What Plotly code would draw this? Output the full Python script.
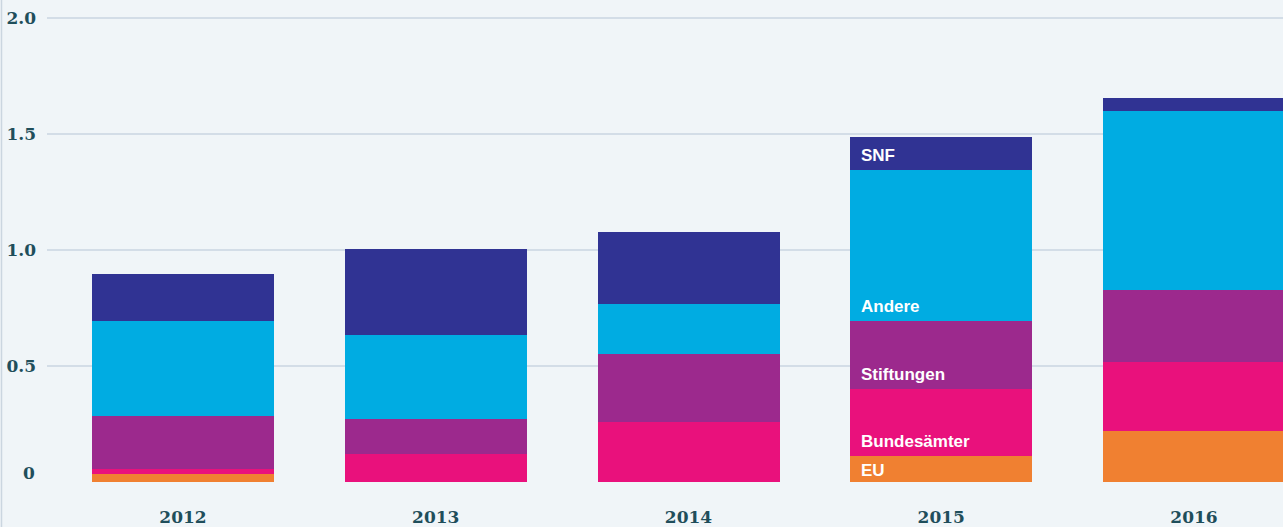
import plotly.graph_objects as go

years = ["2012", "2013", "2014", "2015", "2016"]
eu = [0.035, 0.0, 0.0, 0.112, 0.221]
bundesaemter = [0.021, 0.121, 0.260, 0.289, 0.298]
stiftungen = [0.230, 0.151, 0.292, 0.293, 0.310]
andere = [0.408, 0.362, 0.215, 0.651, 0.771]
snf = [0.203, 0.370, 0.311, 0.142, 0.056]

series_names = ["EU", "Bundesämter", "Stiftungen", "Andere", "SNF"]
series_values = [eu, bundesaemter, stiftungen, andere, snf]
series_colors = ["#F08031", "#E9117C", "#9C298D", "#00ACE2", "#303393"]

y_ticks = [0.5, 1.0, 1.5, 2.0]
y_ticktext = ["0.5", "1.0", "1.5", "2.0"]

TICK_COLOR = "#1F4E5B"
BG = "#F0F5F8"
TICK_FONT = dict(family="DejaVu Serif", size=17, color=TICK_COLOR, weight="bold")

fig = go.Figure()
for name, vals, col in zip(series_names, series_values, series_colors):
    fig.add_trace(go.Bar(x=years, y=vals, name=name, marker=dict(color=col, line=dict(width=0)),
                         width=0.72, hoverinfo="x+y+name"))

# in-bar labels for 2015
idx = years.index("2015")
base = 0.0
for name, vals in zip(series_names, series_values):
    fig.add_annotation(x=idx - 0.36, y=base, xref="x", yref="y", text=name,
                       showarrow=False, xanchor="left", yanchor="bottom",
                       xshift=9, yshift=3 if name != "EU" else 0,
                       font=dict(family="Liberation Sans", size=17, color="white", weight="bold"))
    base += vals[idx]

# "0" label
fig.add_annotation(x=0, y=0, xref="paper", yref="y", text="0", showarrow=False,
                   xanchor="right", yanchor="middle", xshift=-10, yshift=9,
                   font=TICK_FONT)

# left border line
fig.add_shape(type="line", xref="paper", yref="paper",
              x0=-45.5 / 1236, x1=-45.5 / 1236, y0=-45 / 476, y1=1 + 6 / 476,
              line=dict(color="#CBD6E0", width=1.5))

fig.update_layout(
    width=1283, height=527,
    margin=dict(l=47, r=0, t=6, b=45),
    paper_bgcolor=BG, plot_bgcolor=BG,
    barmode="stack", showlegend=False,
    xaxis=dict(range=[-0.538, 4.352], showgrid=False, zeroline=False, showline=False,
               ticks="", ticklabelstandoff=23, tickfont=TICK_FONT),
    yaxis=dict(range=[0, 2.0517], tickvals=y_ticks, ticktext=y_ticktext,
               showgrid=True, gridcolor="#D3DDE7", gridwidth=2, zeroline=False, showline=False,
               ticks="", ticklabelstandoff=10, tickfont=TICK_FONT),
)

fig.write_html("out.html", config={"displayModeBar": False},
               post_script="document.body.style.margin='0';document.body.style.overflow='hidden';")
